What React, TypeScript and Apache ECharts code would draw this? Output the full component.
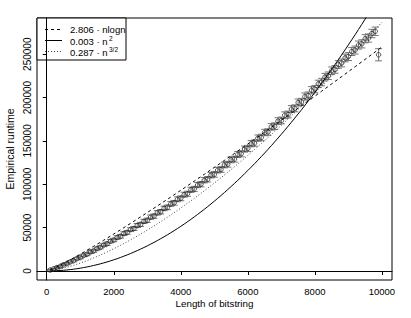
import React, { useEffect, useRef } from "react";
import * as echarts from "echarts";

// Length of bitstring (x) for each measured point
const lengths = [
  100, 200, 300, 400, 500, 600, 700, 800, 900, 1000,
  1100, 1200, 1300, 1400, 1500, 1600, 1700, 1800, 1900, 2000,
  2100, 2200, 2300, 2400, 2500, 2600, 2700, 2800, 2900, 3000,
  3100, 3200, 3300, 3400, 3500, 3600, 3700, 3800, 3900, 4000,
  4100, 4200, 4300, 4400, 4500, 4600, 4700, 4800, 4900, 5000,
  5100, 5200, 5300, 5400, 5500, 5600, 5700, 5800, 5900, 6000,
  6100, 6200, 6300, 6400, 6500, 6600, 6700, 6800, 6900, 7000,
  7100, 7200, 7300, 7400, 7500, 7600, 7700, 7800, 7900, 8000,
  8100, 8200, 8300, 8400, 8500, 8600, 8700, 8800, 8900, 9000,
  9100, 9200, 9300, 9400, 9500, 9600, 9700, 9800, 9900,
];

// Empirical runtime (mean) per length
const runtime = [
  1050, 2280, 3900, 5200, 7100, 8450, 10500, 11900, 14200, 15600,
  17900, 19300, 21800, 23200, 25800, 27300, 29900, 31400, 34300, 35700,
  38600, 40000, 43100, 44500, 47700, 49000, 52400, 53700, 57200, 58500,
  62100, 63300, 67100, 68300, 72200, 73400, 77300, 78600, 82700, 83800,
  88000, 89100, 93600, 94600, 99100, 100100, 104700, 105800, 110500, 111400,
  116300, 117100, 122300, 123100, 128200, 129000, 134300, 135200, 140600, 141300,
  146800, 147500, 153200, 154000, 159700, 160300, 166200, 167000, 172900, 173600,
  179600, 180500, 186800, 187600, 194300, 195000, 201200, 202300, 208500, 209800,
  215800, 217900, 223600, 225200, 230900, 232500, 238200, 239900, 245700, 247300,
  253100, 254800, 260600, 262000, 267900, 268700, 273900, 276500, 249400,
];

// Half-width of the error bar per length
const errHalf = [
  900, 1000, 1100, 1150, 1200, 1300, 1350, 1400, 1450, 1500,
  1550, 1600, 1650, 1700, 1750, 1800, 1850, 1900, 1950, 2000,
  2050, 2100, 2150, 2200, 2200, 2250, 2300, 2350, 2400, 2400,
  2450, 2500, 2550, 2600, 2600, 2650, 2700, 2750, 2800, 2800,
  2850, 2900, 2950, 3000, 3000, 3050, 3100, 3150, 3200, 3200,
  3250, 3300, 3300, 3350, 3400, 3400, 3450, 3500, 3500, 3550,
  3600, 3600, 3650, 3700, 3700, 3750, 3800, 3800, 3850, 3900,
  3900, 3950, 4000, 4000, 4050, 4100, 4100, 4150, 4200, 4200,
  4250, 4300, 4300, 4350, 4400, 4400, 4450, 4500, 4500, 4550,
  4600, 4600, 4650, 4700, 4700, 4750, 4800, 4800, 7000,
];

const curveLengths = [...lengths, 10000];
const xTicks = [0, 2000, 4000, 6000, 8000, 10000];
const yTicks = [0, 50000, 100000, 150000, 200000, 250000];

// fitted coefficients (legend shows them rounded to 3 decimals)
const coefNlogn = 2.806;
const coefN2 = 0.00322;
const coefN32 = 0.287;

const FONT = "'Liberation Sans', Arial, Helvetica, sans-serif";

export default function App() {
  const ref = useRef<HTMLDivElement>(null);
  useEffect(() => {
    if (!ref.current) return;
    const chart = echarts.init(ref.current, undefined, { renderer: "svg" });

    const pts = lengths.map((n, i) => [n, runtime[i]]);
    const bars = lengths.map((n, i) => [n, runtime[i] - errHalf[i], runtime[i] + errHalf[i]]);
    const nlogn = curveLengths.map((n) => [n, coefNlogn * n * Math.log(n)]);
    const n2 = curveLengths.map((n) => [n, coefN2 * n * n]);
    const n32 = curveLengths.map((n) => [n, coefN32 * Math.pow(n, 1.5)]);

    const lineCol = "#000";
    const legendRows = [29.5, 40.5, 51.5];

    chart.setOption({
      animation: false,
      backgroundColor: "#fff",
      textStyle: { fontFamily: FONT },
      grid: {
        left: 37,
        right: 19,
        top: 18,
        bottom: 38,
        show: true,
        borderColor: "#000",
        borderWidth: 1,
        backgroundColor: "transparent",
      },
      xAxis: {
        type: "value",
        min: -290,
        max: 10300,
        splitLine: { show: false },
        axisLine: { show: true, lineStyle: { color: "#000", width: 1 } },
        axisTick: { show: true, inside: false, length: 4, lineStyle: { color: "#000" }, customValues: xTicks },
        axisLabel: {
          customValues: xTicks,
          formatter: (v: number) => String(v),
          color: "#000",
          fontSize: 9.5,
          fontFamily: FONT,
          margin: 6,
        },
      },
      yAxis: {
        type: "value",
        min: -10400,
        max: 291800,
        splitLine: { show: false },
        axisLine: { show: true, lineStyle: { color: "#000", width: 1 } },
        axisTick: { show: true, inside: false, length: 4, lineStyle: { color: "#000" }, customValues: yTicks },
        axisLabel: {
          customValues: yTicks,
          formatter: (v: number) => String(v),
          rotate: 90,
          align: "center",
          verticalAlign: "bottom",
          color: "#000",
          fontSize: 10,
          fontFamily: FONT,
          margin: 5,
        },
      },
      series: [
        {
          type: "custom",
          name: "errors",
          data: bars,
          encode: { x: 0, y: [1, 2] },
          clip: true,
          z: 2,
          renderItem: (params: any, api: any) => {
            const x = api.value(0);
            const lo = api.coord([x, api.value(1)]);
            const hi = api.coord([x, api.value(2)]);
            const w = 3.5;
            const st = { stroke: "#666", lineWidth: 0.9 };
            return {
              type: "group",
              children: [
                { type: "line", shape: { x1: lo[0], y1: lo[1], x2: hi[0], y2: hi[1] }, style: st },
                { type: "line", shape: { x1: lo[0] - w, y1: lo[1], x2: lo[0] + w, y2: lo[1] }, style: st },
                { type: "line", shape: { x1: hi[0] - w, y1: hi[1], x2: hi[0] + w, y2: hi[1] }, style: st },
              ],
            };
          },
        },
        {
          type: "scatter",
          name: "runtime",
          data: pts,
          symbol: "circle",
          symbolSize: 4.5,
          z: 3,
          itemStyle: { color: "rgba(0,0,0,0)", borderColor: "#1a1a1a", borderWidth: 0.9 },
        },
        {
          type: "line",
          name: "nlogn",
          data: nlogn,
          showSymbol: false,
          symbol: "none",
          clip: true,
          z: 4,
          lineStyle: { color: lineCol, width: 1, type: [3, 3] },
        },
        {
          type: "line",
          name: "n2",
          data: n2,
          showSymbol: false,
          symbol: "none",
          clip: true,
          z: 4,
          lineStyle: { color: lineCol, width: 1, type: "solid" },
        },
        {
          type: "line",
          name: "n32",
          data: n32,
          showSymbol: false,
          symbol: "none",
          clip: true,
          z: 4,
          lineStyle: { color: "#444", width: 1, type: [1, 2] },
        },
      ],
      graphic: [
        {
          type: "text",
          x: 10,
          y: 149,
          rotation: Math.PI / 2,
          style: {
            text: "Empirical runtime",
            fill: "#000",
            font: `10.5px ${FONT}`,
            textAlign: "center",
            textVerticalAlign: "middle",
          },
        },
        {
          type: "text",
          x: 214.5,
          y: 303,
          style: {
            text: "Length of bitstring",
            fill: "#000",
            font: `9.8px ${FONT}`,
            textAlign: "center",
            textVerticalAlign: "middle",
          },
        },
        {
          type: "group",
          z: 100,
          children: [
            {
              type: "rect",
              shape: { x: 37, y: 18, width: 89, height: 42 },
              style: { fill: "#fff", stroke: "#000", lineWidth: 1 },
            },
            {
              type: "line",
              shape: { x1: 45, y1: legendRows[0], x2: 62, y2: legendRows[0] },
              style: { stroke: "#000", lineWidth: 1, lineDash: [3, 3] },
            },
            {
              type: "line",
              shape: { x1: 45, y1: legendRows[1], x2: 62, y2: legendRows[1] },
              style: { stroke: "#000", lineWidth: 1 },
            },
            {
              type: "line",
              shape: { x1: 45, y1: legendRows[2], x2: 62, y2: legendRows[2] },
              style: { stroke: "#444", lineWidth: 1, lineDash: [1, 2] },
            },
            {
              type: "text",
              x: 70,
              y: legendRows[0],
              style: { text: "2.806 · nlogn", fill: "#000", font: `9.5px ${FONT}`, textVerticalAlign: "middle" },
            },
            {
              type: "text",
              x: 70,
              y: legendRows[1] + 1,
              style: { text: "0.003 · n", fill: "#000", font: `9.5px ${FONT}`, textVerticalAlign: "middle" },
            },
            {
              type: "text",
              x: 109,
              y: legendRows[1] - 2,
              style: { text: "2", fill: "#000", font: `6.5px ${FONT}`, textVerticalAlign: "middle" },
            },
            {
              type: "text",
              x: 70,
              y: legendRows[2] + 1,
              style: { text: "0.287 · n", fill: "#000", font: `9.5px ${FONT}`, textVerticalAlign: "middle" },
            },
            {
              type: "text",
              x: 109,
              y: legendRows[2] - 2,
              style: { text: "3/2", fill: "#000", font: `6.5px ${FONT}`, textVerticalAlign: "middle" },
            },
          ],
        },
      ],
    });
    return () => chart.dispose();
  }, []);

  return (
    <div
      ref={ref}
      style={{ position: "absolute", left: 0, top: 0, width: 411, height: 318, background: "#fff" }}
    />
  );
}
